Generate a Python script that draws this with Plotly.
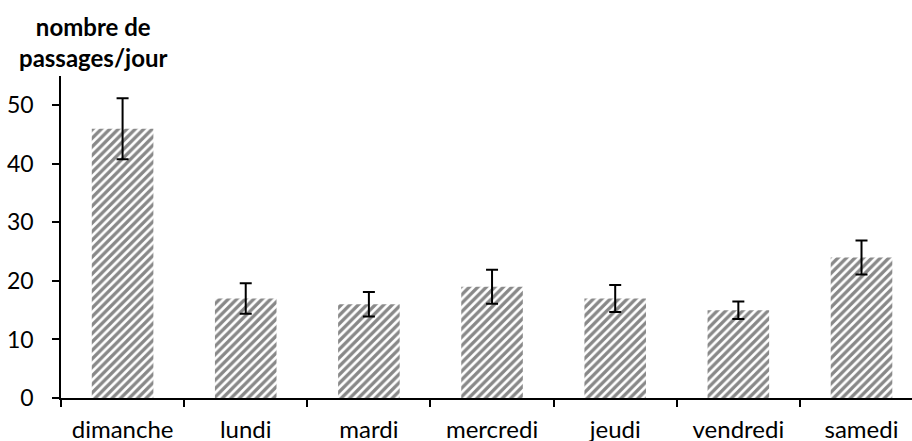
import plotly.graph_objects as go

# Mean number of passages per weekday, with error bar half-widths
jours = ["dimanche", "lundi", "mardi", "mercredi", "jeudi", "vendredi", "samedi"]
passages = [46, 17, 16, 19, 17, 15, 24]
erreurs = [5.2, 2.6, 2.1, 2.9, 2.3, 1.5, 2.9]
y_ticks = [0, 10, 20, 30, 40, 50]

FONT = "Lato, 'Open Sans', sans-serif"
W, H = 912, 441
ML, MR, MT, MB = 61, 0, 76, 43

fig = go.Figure(
    go.Bar(
        x=jours,
        y=passages,
        width=0.5,
        marker=dict(
            color="white",
            line=dict(width=0),
            pattern=dict(shape="/", fgcolor="#111111", bgcolor="white",
                         size=6, solidity=0.55),
        ),
        error_y=dict(type="data", array=erreurs, visible=True,
                     color="black", thickness=2, width=6),
    )
)

plot_h = H - MT - MB
fig.add_annotation(
    text="<b>nombre de<br>passages/jour</b>",
    xref="paper", yref="paper",
    x=(93 - ML) / (W - ML - MR), y=(H - MB - 42) / plot_h,
    xanchor="center", yanchor="middle",
    showarrow=False,
    font=dict(family=FONT, size=24, color="black"),
)

fig.update_layout(
    width=W, height=H,
    margin=dict(l=ML, r=MR, t=MT, b=MB),
    paper_bgcolor="white",
    plot_bgcolor="white",
    showlegend=False,
    bargap=0.5,
    font=dict(family=FONT, size=24, color="black"),
)

fig.update_xaxes(
    type="category",
    range=[-0.5, 6.41],
    automargin=False,
    showline=True, linecolor="black", linewidth=2,
    ticks="outside", ticklen=7, tickwidth=1.5, tickcolor="black",
    tickson="boundaries",
    showgrid=False, zeroline=False,
    ticklabelstandoff=9,
)

fig.update_yaxes(
    range=[0, 55],
    tickvals=y_ticks,
    automargin=False,
    showline=True, linecolor="black", linewidth=1.5,
    ticks="outside", ticklen=7, tickwidth=1.5, tickcolor="black",
    showgrid=False, zeroline=False,
    ticklabelstandoff=14,
    tickfont=dict(size=23),
)

fig.write_html("out.html")
